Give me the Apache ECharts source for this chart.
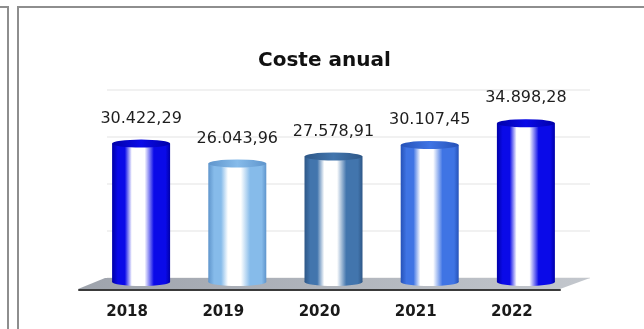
<!DOCTYPE html>
<html>
<head>
<meta charset="utf-8">
<title>Coste anual</title>
<script src="https://cdn.jsdelivr.net/npm/echarts@6/dist/echarts.min.js"></script>
<style>
  html, body { margin: 0; padding: 0; background: #ffffff; }
  #chart { width: 644px; height: 329px; }
</style>
</head>
<body>
<div id="chart"></div>
<script>
// datos
const years = ['2018', '2019', '2020', '2021', '2022'];
const costs = [30422.29, 26043.96, 27578.91, 30107.45, 34898.28];
const wallTicks = [0, 10000, 20000, 30000, 40000];

// colores de cada cilindro: [borde, cuerpo]
const barColors = [
  ['#0000a8', '#0a0ae8'],
  ['#5f95cc', '#86bbea'],
  ['#2e5787', '#4275ad'],
  ['#2652b8', '#3f74e4'],
  ['#0000a8', '#0a0ae8']
];

const FONT = 'DejaVu Sans';
const BAR_W = 58;

// formato español: 30.422,29
function formatEs(v) {
  const parts = v.toFixed(2).split('.');
  const ent = parts[0].replace(/\B(?=(\d{3})+(?!\d))/g, '.');
  return ent + ',' + parts[1];
}

// degradado horizontal con brillo blanco
function bodyGradient(i) {
  const [edge, base] = barColors[i];
  return new echarts.graphic.LinearGradient(0, 0, 1, 0, [
    { offset: 0, color: edge },
    { offset: 0.1, color: base },
    { offset: 0.22, color: base },
    { offset: 0.34, color: '#ffffff' },
    { offset: 0.56, color: '#ffffff' },
    { offset: 0.72, color: base },
    { offset: 0.92, color: base },
    { offset: 1, color: edge }
  ]);
}

function capGradient(i) {
  const [edge, base] = barColors[i];
  return new echarts.graphic.LinearGradient(0, 0, 1, 0, [
    { offset: 0, color: edge },
    { offset: 0.5, color: base },
    { offset: 1, color: edge }
  ]);
}

const chart = echarts.init(document.getElementById('chart'));

const option = {
  backgroundColor: '#ffffff',
  animation: false,
  title: {
    text: 'Coste anual',
    left: 253,
    top: 46,
    textStyle: { fontFamily: FONT, fontSize: 20, fontWeight: 'bold', color: '#111111' }
  },
  grid: [
    // eje de categorias (frente)
    { left: 79, right: 84, top: 100, bottom: 39 },
    // cilindros
    { left: 93, right: 70, top: 100, bottom: 47 },
    // pared del fondo
    { left: 107, right: 54, top: 90, bottom: 51 }
  ],
  xAxis: [
    {
      type: 'category',
      gridIndex: 0,
      data: years,
      axisLine: { lineStyle: { color: '#3a3a3a', width: 2 } },
      axisTick: { length: 6, lineStyle: { color: '#3a3a3a', width: 1.5 } },
      axisLabel: { fontFamily: FONT, fontSize: 15, fontWeight: 'bold', color: '#1a1a1a', margin: 15 }
    },
    { type: 'category', gridIndex: 1, data: years, show: false },
    { type: 'value', gridIndex: 2, show: false }
  ],
  yAxis: [
    { type: 'value', gridIndex: 0, show: false },
    { type: 'value', gridIndex: 1, min: 0, max: 40000, show: false },
    {
      type: 'value',
      gridIndex: 2,
      min: wallTicks[0],
      max: wallTicks[wallTicks.length - 1],
      interval: wallTicks[1] - wallTicks[0],
      axisLine: { show: false },
      axisTick: { show: false },
      axisLabel: { show: false },
      splitLine: { lineStyle: { color: '#ececec', width: 1.5 } }
    }
  ],
  graphic: [
    // bordes de los paneles
    { type: 'rect', shape: { x: 0, y: 6, width: 9, height: 2 }, style: { fill: '#8e8e8e' } },
    { type: 'rect', shape: { x: 7, y: 6, width: 2, height: 330 }, style: { fill: '#8e8e8e' } },
    { type: 'rect', shape: { x: 17, y: 6, width: 630, height: 2 }, style: { fill: '#8e8e8e' } },
    { type: 'rect', shape: { x: 17, y: 6, width: 2, height: 330 }, style: { fill: '#8e8e8e' } },
    // suelo 3D
    {
      type: 'polygon',
      z: 1,
      shape: { points: [[78, 289], [105, 278], [590, 278], [560, 289]] },
      style: {
        fill: new echarts.graphic.LinearGradient(0, 0, 1, 0, [
          { offset: 0, color: '#9ea3ac' },
          { offset: 1, color: '#c3c7cd' }
        ])
      }
    }
  ],
  series: [
    {
      type: 'pictorialBar',
      xAxisIndex: 1,
      yAxisIndex: 1,
      symbol: 'circle',
      symbolSize: [BAR_W, 8],
      symbolPosition: 'start',
      symbolOffset: [0, '50%'],
      barWidth: BAR_W,
      barGap: '-100%',
      z: 2,
      data: costs.map((v, i) => ({ value: v, itemStyle: { color: bodyGradient(i) } }))
    },
    {
      type: 'bar',
      xAxisIndex: 1,
      yAxisIndex: 1,
      barWidth: BAR_W,
      z: 3,
      data: costs.map((v, i) => ({ value: v, itemStyle: { color: bodyGradient(i) } })),
      label: {
        show: true,
        position: 'top',
        distance: 17,
        fontFamily: FONT,
        fontSize: 16,
        color: '#1e1e1e',
        formatter: p => formatEs(p.value)
      }
    },
    {
      type: 'pictorialBar',
      xAxisIndex: 1,
      yAxisIndex: 1,
      symbol: 'circle',
      symbolSize: [BAR_W, 8],
      symbolPosition: 'end',
      symbolOffset: [0, '-50%'],
      barWidth: BAR_W,
      barGap: '-100%',
      z: 4,
      data: costs.map((v, i) => ({ value: v, itemStyle: { color: capGradient(i) } }))
    }
  ]
};

chart.setOption(option);

window.addEventListener('resize', () => chart.resize());
</script>
</body>
</html>
